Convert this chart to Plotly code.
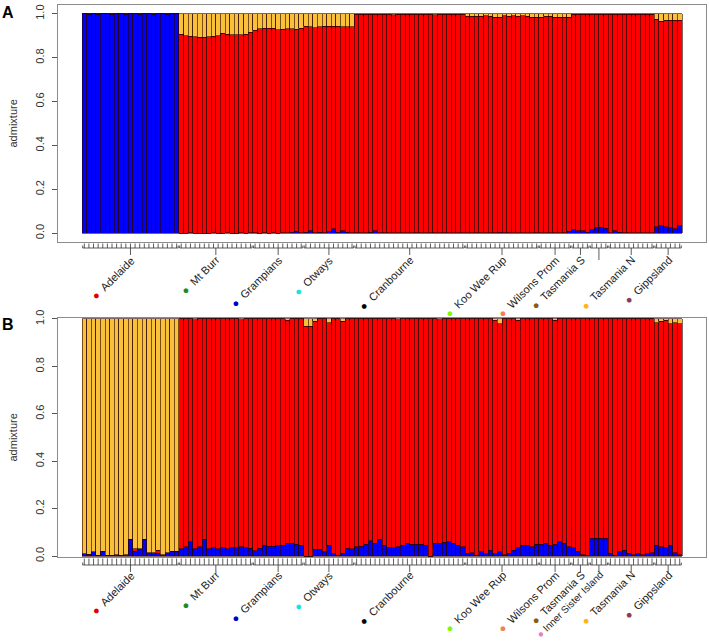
import plotly.graph_objects as go

# ---- data ---------------------------------------------------------------
sites = ["Adelaide", "Mt Burr", "Grampians", "Otways", "Cranbourne", "Koo Wee Rup",
         "Wilsons Prom", "Tasmania S", "Inner Sister Island", "Tasmania N", "Gippsland"]
site_n = [21, 16, 11, 11, 24, 16, 7, 4, 4, 10, 6]
site_colors = ["#E00000", "#1E8B1E", "#0000CD", "#1EE0E0", "#000000", "#7CFC00",
               "#F4804C", "#8B5A16", "#F07CC0", "#FFB40F", "#8B3A62"]
labels_A = ["Adelaide", "Mt Burr", "Grampians", "Otways", "Cranbourne", "Koo Wee Rup",
            "Wilsons Prom", "Tasmania S", "", "Tasmania N", "Gippsland"]
labels_B = sites

# panel A: blue (bottom) and yellow (top) ancestry per individual; red is the rest
blue_A = (
    [1.0, 0.999, 1.0, 0.999, 1.0, 1.0, 0.999, 1.0, 1.0, 0.999, 1.0,
     1.0, 0.999, 1.0, 1.0, 0.999, 1.0, 1.0, 0.999, 1.0, 1.0]                      # Adelaide
    + [0.001, 0.001, 0.002, 0.001, 0.001, 0.001, 0.001, 0.002,
       0.001, 0.001, 0.002, 0.001, 0.001, 0.002, 0.001, 0.002]                   # Mt Burr
    + [0.002, 0.001, 0.002, 0.001, 0.002, 0.001, 0.003, 0.002, 0.004, 0.01, 0.003]  # Grampians
    + [0.004, 0.012, 0.003, 0.005, 0.002, 0.006, 0.02, 0.004, 0.012, 0.005, 0.003]  # Otways
    + [0.003, 0.002, 0.002, 0.004, 0.012, 0.002, 0.003, 0.002, 0.002, 0.003, 0.002, 0.002,
       0.003, 0.002, 0.002, 0.002, 0.003, 0.002, 0.002, 0.002, 0.002, 0.003, 0.002, 0.002]  # Cranbourne
    + [0.002, 0.002, 0.002, 0.002, 0.002, 0.002, 0.002, 0.004,
       0.002, 0.002, 0.002, 0.002, 0.002, 0.002, 0.002, 0.002]                   # Koo Wee Rup
    + [0.002, 0.002, 0.002, 0.002, 0.003, 0.002, 0.008]                          # Wilsons Prom
    + [0.015, 0.012, 0.012, 0.005]                                               # Tasmania S
    + [0.015, 0.025, 0.028, 0.022]                                               # Inner Sister Island
    + [0.003, 0.012, 0.005, 0.002, 0.002, 0.003, 0.002, 0.002, 0.002, 0.002]     # Tasmania N
    + [0.03, 0.035, 0.03, 0.025, 0.02, 0.035]                                    # Gippsland
)
yellow_A = (
    [0.0] * 21
    + [0.093, 0.099, 0.103, 0.105, 0.106, 0.106, 0.105, 0.103,
       0.101, 0.089, 0.093, 0.095, 0.096, 0.096, 0.094, 0.084]
    + [0.075, 0.068, 0.066, 0.065, 0.067, 0.072, 0.07, 0.069, 0.068, 0.07, 0.065]
    + [0.056, 0.058, 0.064, 0.06, 0.057, 0.056, 0.057, 0.056, 0.06, 0.058, 0.06]
    + [0.002, 0.002, 0.002, 0.002, 0.002, 0.002, 0.002, 0.002, 0.004, 0.002, 0.002, 0.002,
       0.002, 0.002, 0.002, 0.002, 0.002, 0.004, 0.002, 0.002, 0.002, 0.002, 0.002, 0.002]
    + [0.012, 0.012, 0.012, 0.012, 0.01, 0.012, 0.015, 0.015,
       0.01, 0.012, 0.01, 0.012, 0.01, 0.012, 0.015, 0.015]
    + [0.015, 0.012, 0.012, 0.015, 0.015, 0.015, 0.015]
    + [0.003, 0.002, 0.002, 0.002]
    + [0.002, 0.002, 0.002, 0.002]
    + [0.002, 0.002, 0.002, 0.002, 0.002, 0.002, 0.002, 0.002, 0.002, 0.002]
    + [0.025, 0.035, 0.03, 0.03, 0.03, 0.03]
)

# panel B
blue_B = (
    [0.01, 0.008, 0.018, 0.004, 0.02, 0.004, 0.004, 0.005, 0.004, 0.005, 0.07,
     0.02, 0.03, 0.07, 0.015, 0.01, 0.012, 0.005, 0.015, 0.02, 0.02]
    + [0.03, 0.04, 0.06, 0.03, 0.04, 0.07, 0.03, 0.035,
       0.03, 0.035, 0.03, 0.035, 0.035, 0.04, 0.035, 0.032]
    + [0.022, 0.032, 0.046, 0.042, 0.042, 0.044, 0.046, 0.053, 0.053, 0.05, 0.046]
    + [0.0, 0.0, 0.028, 0.028, 0.018, 0.046, 0.01, 0.004, 0.011, 0.032, 0.03]
    + [0.04, 0.042, 0.05, 0.065, 0.055, 0.07, 0.045, 0.035, 0.035, 0.04, 0.045, 0.055,
       0.05, 0.05, 0.05, 0.045, 0.0, 0.055, 0.055, 0.058, 0.06, 0.055, 0.045, 0.04]
    + [0.012, 0.015, 0.004, 0.018, 0.01, 0.025, 0.01, 0.018,
       0.005, 0.012, 0.025, 0.035, 0.045, 0.045, 0.04, 0.05]
    + [0.05, 0.055, 0.045, 0.05, 0.06, 0.055, 0.04]
    + [0.035, 0.02, 0.005, 0.004]
    + [0.075, 0.076, 0.076, 0.075]
    + [0.012, 0.004, 0.018, 0.025, 0.012, 0.006, 0.01, 0.005, 0.01, 0.015]
    + [0.045, 0.04, 0.035, 0.045, 0.015, 0.005]
)
yellow_B = (
    [0.99, 0.992, 0.982, 0.996, 0.98, 0.996, 0.996, 0.995, 0.996, 0.995, 0.93,
     0.97, 0.97, 0.93, 0.985, 0.985, 0.975, 0.995, 0.985, 0.98, 0.98]
    + [0.0, 0.0, 0.0, 0.003, 0.0, 0.0, 0.0, 0.0, 0.0, 0.0, 0.0, 0.0, 0.0, 0.004, 0.0, 0.0]
    + [0.0, 0.0, 0.0, 0.0, 0.0, 0.0, 0.0, 0.005, 0.0, 0.0, 0.0]
    + [0.03, 0.03, 0.01, 0.0, 0.0, 0.015, 0.0, 0.0, 0.01, 0.0, 0.0]
    + [0.0, 0.0, 0.0, 0.0, 0.0, 0.0, 0.0, 0.0, 0.0, 0.003, 0.0, 0.0,
       0.0, 0.0, 0.0, 0.0, 0.0, 0.0, 0.003, 0.0, 0.0, 0.0, 0.0, 0.0]
    + [0.0, 0.0, 0.0, 0.0, 0.0, 0.0, 0.005, 0.02, 0.0, 0.0, 0.0, 0.005, 0.0, 0.0, 0.0, 0.0]
    + [0.0, 0.0, 0.0, 0.005, 0.0, 0.0, 0.0]
    + [0.0, 0.0, 0.0, 0.0]
    + [0.0, 0.0, 0.0, 0.0]
    + [0.0] * 10
    + [0.015, 0.01, 0.005, 0.02, 0.015, 0.02]
)

# ---- layout constants (pixels) ----------------------------------------------
W, H = 709, 644
X0, X1 = 58, 706
COL_BLUE, COL_RED, COL_YEL = "#0000FF", "#FF0000", "#F9C03A"
FONT = "Liberation Sans, Arial, sans-serif"
N = sum(site_n)
xs = [i + 0.5 for i in range(N)]
XR = [-0.04 * N, 1.04 * N]


def dom(top, bot):
    return [(H - bot) / H, (H - top) / H]


panels = [
    dict(ax="", bax="2", box=(5, 242), brk=(242, 318), yr=[-0.04, 1.04],
         blue=blue_A, yel=yellow_A, labels=labels_A, geo=(1.5, 6, 13), shift=(9, 5), tag="A"),
    dict(ax="3", bax="4", box=(318, 557), brk=(557, 644), yr=[-0.004, 1.004],
         blue=blue_B, yel=yellow_B, labels=labels_B, geo=(1.5, 8, 15), shift=(9, 7), tag="B"),
]

fig = go.Figure()
annotations = []
layout_axes = {}

for p in panels:
    red = [max(0.0, 1 - b - y) for b, y in zip(p["blue"], p["yel"])]
    for vals, col in [(p["blue"], COL_BLUE), (red, COL_RED), (p["yel"], COL_YEL)]:
        fig.add_trace(go.Bar(
            x=xs, y=vals, width=1, marker=dict(color=col, line=dict(color="#2a0000", width=0.6)),
            xaxis="x" + p["ax"], yaxis="y" + p["ax"], showlegend=False, hoverinfo="skip"))

    # brackets under each site
    t_top, t_line, t_stem = p["geo"]
    bx, by = [], []
    start = 0
    for k, n in enumerate(site_n):
        a, b = start, start + n
        for i in range(a, b):
            bx += [i + 0.5, i + 0.5, None]
            by += [t_top, t_line, None]
        bx += [a + 0.15, a + 0.15, b - 0.15, b - 0.15, None]
        by += [t_line - 2.5, t_line, t_line, t_line - 2.5, None]
        c = (a + b) / 2
        lab = p["labels"][k]
        stem = t_stem if lab else t_stem + 5
        bx += [c, c, None]
        by += [t_line, stem, None]
        if lab:
            long_lab = len(lab) > 14
            gap = " " if long_lab else "  "
            annotations.append(dict(
                x=c, y=t_stem + 1, xref="x" + p["bax"], yref="y" + p["bax"],
                text=f"<span style='color:{site_colors[k]}'>●</span>{gap}{lab}",
                textangle=-45, xanchor="right", yanchor="top", showarrow=False,
                xshift=p["shift"][0], yshift=p["shift"][1],
                font=dict(size=10 if long_lab else 11, color="#222", family=FONT)))
        start = b
    fig.add_trace(go.Scatter(
        x=bx, y=by, mode="lines", line=dict(color="#333", width=0.8),
        xaxis="x" + p["bax"], yaxis="y" + p["bax"], showlegend=False,
        hoverinfo="skip", cliponaxis=False))

    b0, b1 = p["box"]
    k0, k1 = p["brk"]
    layout_axes["xaxis" + p["ax"]] = dict(
        domain=[X0 / W, X1 / W], range=XR, anchor="y" + p["ax"], showline=True, mirror=True,
        linecolor="#8c8c8c", linewidth=1, showticklabels=False, ticks="", showgrid=False,
        zeroline=False, automargin=False)
    layout_axes["yaxis" + p["ax"]] = dict(
        domain=dom(b0, b1), range=p["yr"], anchor="x" + p["ax"], showline=True, mirror=True,
        linecolor="#8c8c8c", linewidth=1, tickvals=[0, 0.2, 0.4, 0.6, 0.8, 1.0],
        ticktext=["0.0", "0.2", "0.4", "0.6", "0.8", "1.0"], tickangle=-90,
        ticks="outside", ticklen=5, tickcolor="#555", showgrid=False, zeroline=False,
        ticklabelstandoff=4, automargin=False,
        tickfont=dict(size=11, color="#333", family=FONT))
    layout_axes["xaxis" + p["bax"]] = dict(
        domain=[X0 / W, X1 / W], range=XR, anchor="y" + p["bax"], visible=False,
        automargin=False)
    layout_axes["yaxis" + p["bax"]] = dict(
        domain=dom(k0, k1), range=[k1 - k0, 0], anchor="x" + p["bax"], visible=False,
        automargin=False)

    annotations.append(dict(
        x=8 / W, y=(H - (b0 + 7)) / H, xref="paper", yref="paper", text=f"<b>{p['tag']}</b>",
        showarrow=False, xanchor="center", yanchor="middle",
        font=dict(size=16, color="#000", family=FONT)))
    annotations.append(dict(
        x=12 / W, y=(H - (b0 + b1) / 2) / H, xref="paper", yref="paper", text="admixture",
        textangle=-90, showarrow=False, xanchor="center", yanchor="middle",
        font=dict(size=11, color="#333", family=FONT)))

fig.update_layout(
    width=W, height=H, margin=dict(l=0, r=0, t=0, b=0, autoexpand=False),
    barmode="stack", bargap=0, plot_bgcolor="white", paper_bgcolor="white",
    hovermode=False, annotations=annotations, **layout_axes)

# page body has a default 8px margin; drop it so the figure fills the window
fig.write_html("out.html", config={"displayModeBar": False, "staticPlot": True},
               post_script="document.body.style.margin='0';")
